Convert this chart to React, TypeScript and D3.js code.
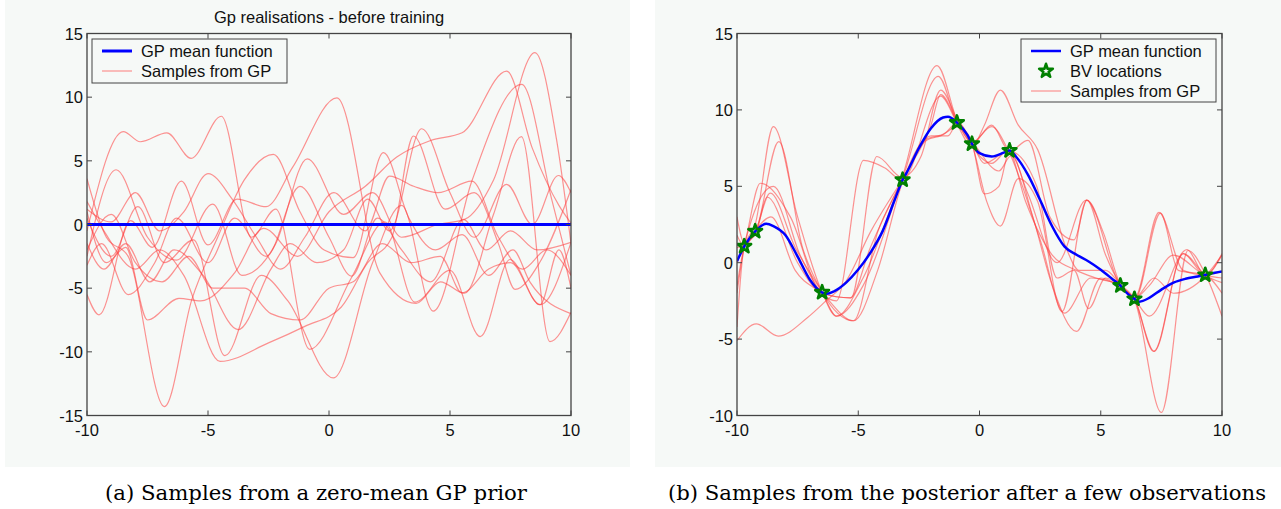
import React from 'react';
import * as d3 from 'd3';

// axis ticks
const xTicks = [-10, -5, 0, 5, 10];
const priorYTicks = [-15, -10, -5, 0, 5, 10, 15];
const postYTicks = [-10, -5, 0, 5, 10, 15];

// (a) prior: zero mean + samples, key points [x, y]
const priorMean = [[-10, 0], [10, 0]];
const priorA = [[-10, -0.5], [-8.5, 7.3], [-7.8, 6.5], [-6.7, 7.2], [-5.7, 5.2], [-4.45, 8.5], [-3.2, -1.0], [-2.2, 1.2], [-0.8, -9.8], [0.95, -4.1], [2.3, 0.2], [3.55, -6.1], [5.0, -3.6], [6.25, -8.8], [7.48, -2.75], [8.72, -6.3], [10, -1.4]];
const priorB = [[-10, -5.5], [-9.5, -7.1], [-8.2, 0.3], [-7.3, -1.8], [-6.1, 3.4], [-5.0, -1.6], [-3.8, 2.0], [-2.6, 1.4], [-1.5, 4.5], [0.33, 9.95], [2.1, -3.8], [3.6, -6.2], [4.6, -4.5], [5.6, -5.4], [6.8, 0.8], [7.95, 6.9], [9.13, -9.2], [10, -6.9]];
const priorC = [[-10, 1.0], [-9.2, -3.0], [-8.4, -1.8], [-7.5, -7.5], [-6.2, -5.8], [-5.3, -6.0], [-3.9, -3.8], [-2.7, -0.3], [-1.3, -2.5], [0, 1.0], [1.5, 3.0], [2.8, 5.3], [4.2, 6.6], [5.5, 7.2], [7.34, 12.05], [8.4, 6.0], [9.5, 1.5], [10, 0.1]];
const priorD = [[-10, -2.5], [-8.8, 4.3], [-7.5, -1.0], [-6.3, -2.8], [-4.8, 1.6], [-3.6, -4.0], [-2.2, -1.5], [-0.9, 5.16], [0.6, 0.8], [1.8, 2.5], [3.0, -1.0], [4.5, 0.0], [5.6, 0.4], [6.8, 3.5], [8.51, 13.5], [9.4, 6.7], [10, -1.5]];
const priorE = [[-10, 0.5], [-9.0, -2.5], [-7.9, 1.4], [-6.8, -3.0], [-5.6, -1.2], [-4.3, -10.3], [-2.8, -4.0], [-1.7, -6.0], [0.18, -12.05], [1.8, -3.0], [3.0, 1.5], [4.31, -6.8], [5.9, 3.4], [7.96, 11.0], [9.2, 2.0], [10, -4.0]];
const priorF = [[-10, 3.6], [-9.2, -1.0], [-8.3, -2.5], [-6.8, -14.3], [-5.67, -5.9], [-4.6, -1.0], [-3.5, 3.5], [-2.3, 5.5], [-1.2, 1.0], [-0.2, -2.0], [1.0, -2.6], [2.25, 5.64], [3.3, 0.5], [4.4, -2.0], [5.5, -0.8], [6.6, -4.0], [7.6, -2.0], [8.3, -4.5], [10, -7.0]];
const priorG = [[-10, 1.8], [-9.3, -0.5], [-8.0, -3.5], [-7.0, -2.0], [-6.0, -4.0], [-4.5, -10.75], [-2.5, -9.3], [-1.0, -8.0], [0.5, -6.5], [1.6, -3.0], [2.6, -1.0], [3.49, 6.95], [4.8, 1.2], [6.0, 2.5], [7.0, -1.5], [7.69, -5.1], [8.7, -3.0], [10, 2.75]];
const priorH = [[-10, -1.5], [-9.3, -3.5], [-8.4, -1.5], [-7.4, -4.5], [-6.4, -2.0], [-5.2, -4.0], [-3.75, -8.25], [-2.4, -3.5], [-1.6, -1.5], [-0.5, -3.0], [0.6, -2.0], [1.6, 2.0], [2.5, -0.5], [3.83, 7.52], [5.0, 2.5], [6.0, -1.0], [7.34, 3.15], [8.4, 0.0], [9.48, 3.85], [10, 2.5]];
const priorI = [[-10, -3.2], [-9.4, -1.5], [-8.3, -5.5], [-7.2, -3.0], [-6.3, 0.5], [-5.0, -3.0], [-3.9, 0.5], [-2.6, -2.5], [-1.2, 3.0], [0.0, -1.0], [0.94, -4.06], [2.0, 0.5], [3.0, -2.0], [4.2, -4.5], [5.55, 0.4], [6.5, -2.0], [7.5, -0.5], [8.6, -2.0], [10, -1.4]];
const priorJ = [[-10, 1.2], [-9.0, 0.2], [-8.0, 2.5], [-7.0, -0.5], [-6.0, 1.0], [-5.0, 4.0], [-4.0, 2.0], [-3.0, -1.0], [-2.0, -3.5], [-1.0, -1.0], [0.2, 2.5], [1.5, -0.5], [2.5, 3.8], [3.5, 3.0], [4.5, 2.5], [5.9, 3.4], [7.0, -1.0], [8.0, -3.5], [9.0, -2.0], [10, -4.0]];
const priorK = [[-10, -2.0], [-9.0, 0.8], [-8.0, -3.0], [-6.9, -4.5], [-5.8, -2.5], [-4.8, -5.0], [-3.5, -5.0], [-2.4, -7.0], [-1.2, -7.5], [0, -5.0], [1.0, -4.5], [2.2, -1.5], [3.4, -3.0], [4.6, -2.5], [5.5, -5.37], [6.6, -3.5], [7.5, -3.0], [8.72, -6.3], [9.5, -2.0], [10, -5.0]];
const priorSamples = [priorA, priorB, priorC, priorD, priorE, priorF, priorG, priorH, priorI, priorJ, priorK];

// (b) posterior
const postMean = [[-10, 0.1], [-9.7, 1.07], [-9.25, 2.05], [-8.8, 2.55], [-8.5, 2.4], [-8, 1.8], [-7.5, 0.4], [-7, -1.1], [-6.5, -1.94], [-6.3, -2.03], [-6, -1.87], [-5.5, -1.3], [-5, -0.45], [-4.5, 0.65], [-4, 2.05], [-3.5, 4.1], [-3.17, 5.42], [-3, 5.9], [-2.5, 7.5], [-2, 8.8], [-1.5, 9.5], [-1.3, 9.55], [-0.93, 9.17], [-0.5, 8.37], [-0.31, 7.78], [0, 7.17], [0.5, 6.95], [1.0, 7.2], [1.24, 7.34], [1.5, 6.95], [2, 5.75], [2.5, 4.1], [3, 2.37], [3.5, 1.07], [4, 0.52], [4.5, 0.08], [5, -0.46], [5.5, -1.1], [5.81, -1.5], [6, -1.87], [6.39, -2.37], [6.6, -2.55], [7, -2.3], [7.5, -1.76], [8, -1.3], [8.5, -1.05], [9, -0.9], [9.31, -0.8], [9.5, -0.72], [10, -0.57]];
const bvX = [-9.7, -9.25, -6.49, -3.17, -0.93, -0.31, 1.24, 5.81, 6.39, 9.31];
const bvY = [1.07, 2.05, -1.94, 5.42, 9.17, 7.78, 7.34, -1.5, -2.37, -0.8];
const post1 = [[-10, -5.1], [-9.2, -4.0], [-8.3, -4.8], [-7.1, -3.6], [-6.4, -2.6], [-5.5, -1.2], [-4.5, 2.0], [-3.2, 5.4], [-2.2, 8.0], [-1.6, 8.3], [-0.9, 8.9], [-0.3, 7.9], [0.8, 6.0], [1.3, 7.0], [2.2, 3.0], [3.0, -1.5], [4.0, -4.5], [5.0, -1.0], [5.8, -1.6], [6.4, -2.5], [7.5, -9.8], [8.6, 0.8], [9.3, -0.7], [10, -3.5]];
const post2 = [[-10, -2], [-9.7, 1.0], [-9.25, 2.5], [-8.5, 8.9], [-7.5, 3.0], [-6.5, -1.9], [-5.9, -3.5], [-4.8, -1.5], [-3.2, 5.5], [-1.75, 12.9], [-0.9, 9.2], [-0.3, 7.6], [0.5, 6.5], [1.2, 7.4], [2.0, 4.5], [3.2, 0.0], [4.4, 4.1], [5.8, -1.5], [6.4, -2.4], [7.18, -5.8], [8.4, 0.6], [9.3, -0.8], [10, -0.6]];
const post3 = [[-10, 3.0], [-9.7, 1.3], [-9.2, 2.2], [-8.28, 7.93], [-7.3, 1.0], [-6.5, -1.9], [-5.2, -3.8], [-4.2, 2.0], [-3.2, 5.4], [-1.7, 12.2], [-0.9, 9.0], [-0.3, 7.6], [0.2, 9.0], [0.86, 11.3], [1.6, 9.0], [2.4, 7.4], [3.6, 0.85], [4.1, -0.5], [5.2, -0.5], [5.8, -1.4], [6.4, -2.3], [7.4, 3.3], [8.4, -0.5], [9.3, -0.8], [10, 0.5]];
const post4 = [[-10, 0.0], [-9.7, 1.2], [-9.04, 5.2], [-7.8, 3.0], [-6.5, -2.0], [-5.3, -2.3], [-4.23, 6.95], [-3.2, 5.6], [-2.4, 7.0], [-1.6, 11.3], [-0.9, 9.3], [-0.3, 7.7], [0.3, 4.0], [0.86, 2.4], [1.6, 5.5], [2.4, 4.0], [3.4, -3.2], [4.43, 4.1], [5.1, 2.0], [5.8, -1.4], [6.4, -2.3], [7.2, -1.0], [8.0, -2.0], [9.3, -0.9], [10, 0.5]];
const post5 = [[-10, -1.5], [-9.7, 1.1], [-8.5, 5.0], [-7.4, 0.5], [-6.5, -2.0], [-5.9, -2.5], [-4.78, 6.7], [-3.9, 6.2], [-3.2, 5.4], [-1.6, 10.9], [-0.9, 9.1], [-0.3, 7.9], [0.5, 8.9], [1.2, 7.3], [2.5, 1.5], [3.5, -3.3], [4.6, -1.0], [5.8, -1.5], [6.4, -2.4], [7.2, -5.8], [8.4, 0.6], [9.3, -0.8], [10, -1.3]];
const post6 = [[-10, 1.0], [-9.7, 1.1], [-9.25, 2.0], [-8.63, 4.55], [-7.6, 1.0], [-6.5, -1.9], [-5.89, -3.5], [-4.8, -1.0], [-3.17, 5.4], [-2.0, 8.3], [-1.3, 8.3], [-0.9, 9.2], [-0.3, 7.8], [0.2, 6.5], [1.2, 7.3], [1.9, 4.0], [3.0, 0.5], [4.0, -0.5], [4.8, -1.0], [5.8, -1.5], [6.4, -2.4], [7.46, 3.24], [8.2, -0.5], [9.3, -0.8], [10, -2.0]];
const post7 = [[-10, -4.2], [-9.7, 1.0], [-9.2, 2.0], [-8.76, 4.3], [-7.5, 0], [-6.5, -2.0], [-5.34, -2.3], [-4.5, 1.0], [-3.2, 5.4], [-2.0, 9.0], [-1.6, 11.0], [-0.9, 9.2], [-0.3, 7.8], [0.2, 4.5], [0.8, 5.0], [1.24, 7.3], [2.36, 5.0], [3.2, -1.0], [3.9, -0.5], [4.5, -3.0], [5.2, -1.0], [5.8, -1.5], [6.4, -2.4], [7.0, -3.5], [8.56, 0.85], [9.3, -0.8], [10, 0.6]];
const post8 = [[-10, 1.8], [-9.7, 1.1], [-9.25, 2.1], [-8.6, 3.0], [-7.6, -0.5], [-6.5, -2.0], [-5.2, -3.8], [-4.2, -0.5], [-3.17, 5.3], [-2.3, 8.0], [-1.4, 8.5], [-0.9, 9.2], [-0.3, 7.8], [0.5, 9.0], [1.24, 7.3], [2.0, 8.0], [2.9, 3.0], [3.9, 1.5], [4.43, 4.1], [5.2, 0.5], [5.8, -1.4], [6.4, -2.3], [7.0, -1.5], [8.0, 0.5], [9.3, -0.8], [10, -1.0]];
const postSamples = [post1, post2, post3, post4, post5, post6, post7, post8];

const FONT = "'Liberation Sans', Arial, Helvetica, sans-serif";
const FS = 16.5;
const RED = '#ff3c3c';
const BLUE = '#0000ff';
const GREEN = '#008000';
const PANEL_BG = '#f6f9f7';

type Pt = number[];

function Panel(props: {
  id: string; left: number; right: number; top: number; bottom: number;
  yDomain: [number, number]; yTicks: number[]; samples: Pt[][]; mean: Pt[];
  meanWidth: number; stars?: boolean; title?: string;
}) {
  const { id, left, right, top, bottom, yDomain, yTicks, samples, mean, meanWidth, stars, title } = props;
  const x = d3.scaleLinear().domain([-10, 10]).range([left, right]);
  const y = d3.scaleLinear().domain(yDomain).range([bottom, top]);
  const line = d3.line<Pt>().x(d => x(d[0])).y(d => y(d[1])).curve(d3.curveMonotoneX);
  const star = d3.symbol().type(d3.symbolStar).size(58)();
  const tick = 5;
  return (
    <g>
      <defs>
        <clipPath id={id}>
          <rect x={left} y={top} width={right - left} height={bottom - top} />
        </clipPath>
      </defs>
      <g clipPath={`url(#${id})`}>
        {samples.map((s, i) => (
          <path key={i} d={line(s) || ''} fill="none" stroke={RED} strokeOpacity={0.55} strokeWidth={1.2} />
        ))}
        <path d={line(mean) || ''} fill="none" stroke={BLUE} strokeWidth={meanWidth} />
        {stars && bvX.map((bx, i) => (
          <path key={i} d={star || ''} transform={`translate(${x(bx)},${y(bvY[i])})`}
            fill="none" stroke={GREEN} strokeWidth={2.6} strokeLinejoin="round" />
        ))}
      </g>
      <rect x={left} y={top} width={right - left} height={bottom - top} fill="none" stroke="#444" strokeWidth={1.3} />
      {xTicks.map(t => (
        <g key={'x' + t}>
          <line x1={x(t)} x2={x(t)} y1={bottom} y2={bottom - tick} stroke="#444" />
          <line x1={x(t)} x2={x(t)} y1={top} y2={top + tick} stroke="#444" />
          <text x={x(t)} y={bottom + 20} textAnchor="middle" fontFamily={FONT} fontSize={FS} fill="#111">{t}</text>
        </g>
      ))}
      {yTicks.map(t => (
        <g key={'y' + t}>
          <line x1={left} x2={left + tick} y1={y(t)} y2={y(t)} stroke="#444" />
          <line x1={right} x2={right - tick} y1={y(t)} y2={y(t)} stroke="#444" />
          <text x={left - 4} y={y(t) + 6} textAnchor="end" fontFamily={FONT} fontSize={FS} fill="#111">{t}</text>
        </g>
      ))}
      {title && (
        <text x={(left + right) / 2} y={23} textAnchor="middle" fontFamily={FONT} fontSize={FS} fill="#111">{title}</text>
      )}
    </g>
  );
}

export default function App() {
  const star = d3.symbol().type(d3.symbolStar).size(58)();
  return (
    <svg width={1281} height={509} style={{ position: 'absolute', left: 0, top: 0, background: '#fff' }}>
      <rect x={5} y={0} width={625} height={467} fill={PANEL_BG} />
      <rect x={655} y={0} width={626} height={467} fill={PANEL_BG} />

      <Panel id="clipA" left={87} right={571} top={33.5} bottom={415.5} yDomain={[-15, 15]} yTicks={priorYTicks}
        samples={priorSamples} mean={priorMean} meanWidth={3} title="Gp realisations - before training" />
      <Panel id="clipB" left={737} right={1222} top={33.5} bottom={415.5} yDomain={[-10, 15]} yTicks={postYTicks}
        samples={postSamples} mean={postMean} meanWidth={2.5} stars />

      {/* legend (a) */}
      <g fontFamily={FONT} fontSize={FS} fill="#111">
        <rect x={92} y={39} width={195} height={44} fill={PANEL_BG} stroke="#444" />
        <line x1={102} x2={132} y1={51} y2={51} stroke={BLUE} strokeWidth={3} />
        <text x={141} y={57}>GP mean function</text>
        <line x1={102} x2={132} y1={71} y2={71} stroke={RED} strokeOpacity={0.55} strokeWidth={1.2} />
        <text x={141} y={77}>Samples from GP</text>
      </g>

      {/* legend (b) */}
      <g fontFamily={FONT} fontSize={FS} fill="#111">
        <rect x={1021} y={39} width={195} height={63} fill={PANEL_BG} stroke="#444" />
        <line x1={1031} x2={1061} y1={51} y2={51} stroke={BLUE} strokeWidth={2.5} />
        <text x={1070} y={57}>GP mean function</text>
        <path d={star || ''} transform="translate(1046,71)" fill="none" stroke={GREEN} strokeWidth={2.6} strokeLinejoin="round" />
        <text x={1070} y={77}>BV locations</text>
        <line x1={1031} x2={1061} y1={91} y2={91} stroke={RED} strokeOpacity={0.55} strokeWidth={1.2} />
        <text x={1070} y={97}>Samples from GP</text>
      </g>

      <g fontFamily="'DejaVu Serif', 'Liberation Serif', serif" fontSize={19.5} fill="#000">
        <text x={105} y={500} textLength={422} lengthAdjust="spacingAndGlyphs">(a) Samples from a zero-mean GP prior</text>
        <text x={668} y={500} textLength={598} lengthAdjust="spacingAndGlyphs">(b) Samples from the posterior after a few observations</text>
      </g>
    </svg>
  );
}
